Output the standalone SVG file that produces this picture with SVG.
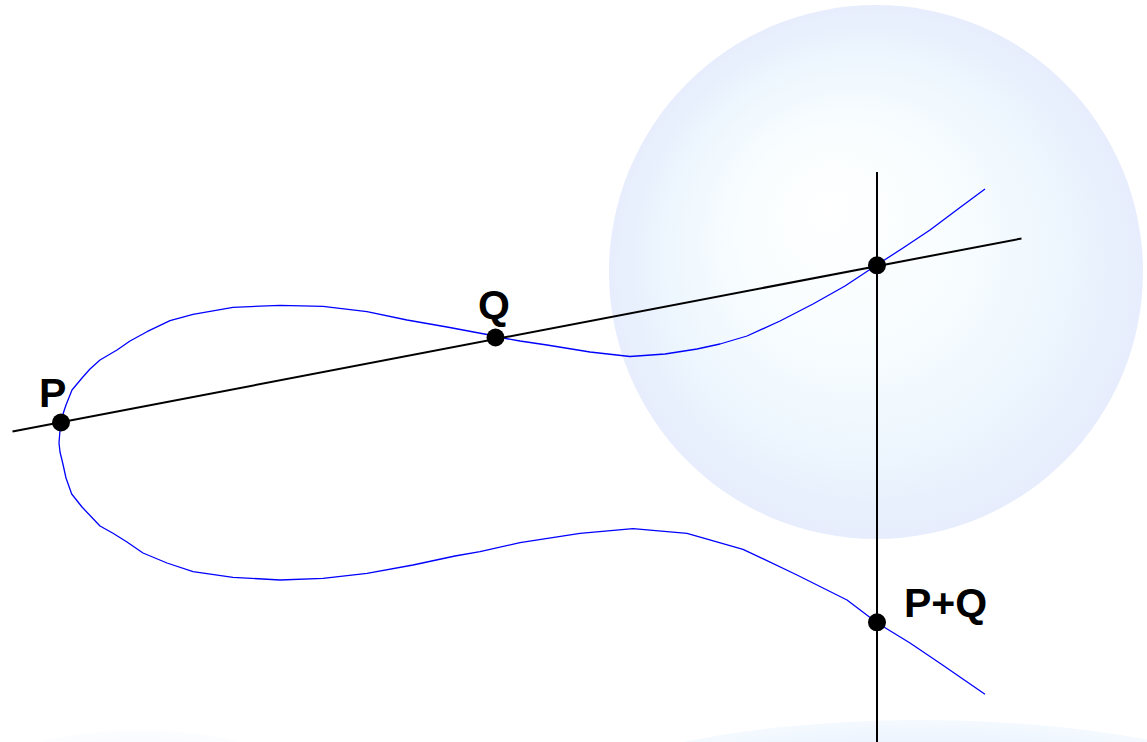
<svg xmlns="http://www.w3.org/2000/svg" width="1147" height="742" viewBox="0 0 1147 742">
<defs>
<radialGradient id="sph" cx="876" cy="272" r="267" fx="825" fy="205" gradientUnits="userSpaceOnUse">
<stop offset="0" stop-color="#ffffff"/>
<stop offset="0.4" stop-color="#f8fdff"/>
<stop offset="0.7" stop-color="#eff7fe"/>
<stop offset="0.9" stop-color="#e8f0fd"/>
<stop offset="1" stop-color="#e7edfc"/>
</radialGradient>
<radialGradient id="sph2" cx="0.5" cy="0.5" r="0.5">
<stop offset="0" stop-color="#e6edfc"/>
<stop offset="0.8" stop-color="#e8f0fd"/>
<stop offset="1" stop-color="#f3f9ff"/>
</radialGradient>
<style>
.curve{fill:none;stroke:#0000ff;stroke-width:1.3;stroke-linejoin:round}
.ln{stroke:#000;stroke-width:2;fill:none}
.dot{fill:#000}
.lbl{font-family:"Liberation Sans",Arial,sans-serif;font-weight:bold;font-size:41px;fill:#000}
</style>
</defs>
<rect width="1147" height="742" fill="#fff"/>
<g id="background">
<circle cx="876" cy="272" r="267" fill="url(#sph)"/>
<ellipse cx="921" cy="872" rx="460" ry="152" fill="url(#sph2)" opacity="0.9"/>
<ellipse cx="140" cy="840" rx="220" ry="110" fill="url(#sph2)" opacity="0.35"/>
</g>
<g id="connectors">
<path id="curve" class="curve" d="M985,189 L958,209 L930,230 L903,248 L876.7,265 L845,286 L813,304 L780,321 L747,336 L720,344 L697,349 L665,354 L630,356.5 L590,352 L547,345 L520,341 L495,336.7 L487,334.5 L447,327 L407,320 L367,311.7 L323,306.3 L280,305.3 L233,307.3 L193,314.3 L170,320.7 L147,331.7 L130,341 L117,350 L100,360 L90,369 L82,378 L72,390 L66,405 L61.7,418 L60,430 L59,443 L60,452 L62.7,463 L66,478 L71.7,494 L82,507 L100,526 L113,533.3 L127,542 L143,553 L167,563 L193,571.7 L233,577.3 L280,580 L323,578.3 L367,573.3 L413,565 L455,556 L480,551.7 L520,542.7 L580,533.3 L633,528.7 L687,533.3 L743,549.3 L797,575 L847,600 L877,622.7 L910,643 L940,663.3 L985,694.3"/>
<line id="secant" class="ln" x1="12.5" y1="431.5" x2="1021.5" y2="238.5"/>
<line id="vertical" class="ln" x1="877" y1="172" x2="877" y2="742"/>
</g>
<g id="node-P">
<circle class="dot" cx="61" cy="422.5" r="9"/>
<text class="lbl" x="39" y="407">P</text>
</g>
<g id="node-Q">
<circle class="dot" cx="495.5" cy="337.5" r="9"/>
<text class="lbl" x="478" y="318.5">Q</text>
</g>
<g id="node-R">
<circle class="dot" cx="877" cy="265.3" r="9"/>
</g>
<g id="node-PQ">
<circle class="dot" cx="877" cy="622.3" r="9"/>
<text class="lbl" x="904" y="617">P+Q</text>
</g>
</svg>
